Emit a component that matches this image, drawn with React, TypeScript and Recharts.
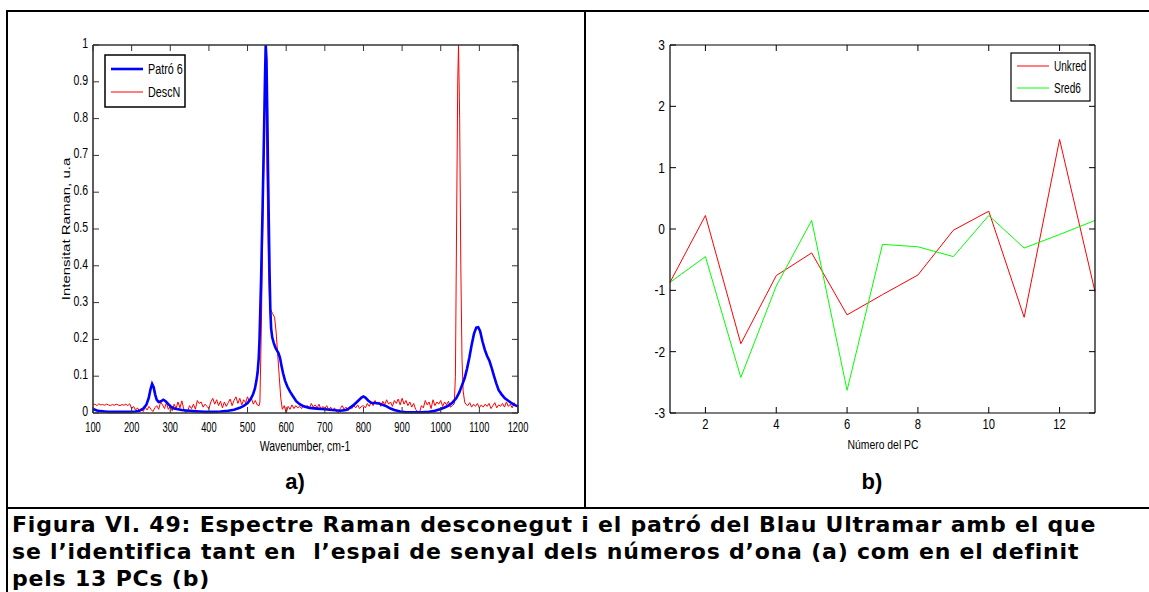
import React from 'react';
import { LineChart, Line, XAxis, YAxis } from 'recharts';

// (a) Raman spectra: wavenumber (cm-1) vs normalised intensity
const WAVENUMBER_TICKS = [100, 200, 300, 400, 500, 600, 700, 800, 900, 1000, 1100, 1200];
const INTENSITY_TICKS = [0, 0.1, 0.2, 0.3, 0.4, 0.5, 0.6, 0.7, 0.8, 0.9, 1];

const PATRO6: [number, number][] = [
  [100, 0.011], [110, 0.007], [120, 0.005], [130, 0.004], [140, 0.003], [150, 0.003], [160, 0.003],
  [170, 0.003], [180, 0.003], [190, 0.003], [200, 0.003], [210, 0.004], [220, 0.006], [230, 0.012],
  [238, 0.022], [244, 0.04], [249, 0.065], [253, 0.079], [257, 0.07], [261, 0.05], [265, 0.036],
  [270, 0.03], [276, 0.032], [282, 0.036], [288, 0.032], [295, 0.024], [302, 0.017], [310, 0.012],
  [320, 0.01], [330, 0.008], [340, 0.007], [350, 0.006], [360, 0.005], [375, 0.004], [390, 0.003],
  [410, 0.003], [430, 0.004], [450, 0.006], [465, 0.009], [480, 0.014], [490, 0.019], [500, 0.027],
  [508, 0.038], [514, 0.05], [519, 0.066], [523, 0.088], [526, 0.11], [529, 0.15], [531, 0.2],
  [533, 0.28], [535, 0.36], [537, 0.46], [539, 0.56], [541, 0.67], [543, 0.78], [545, 0.9],
  [547, 1.0], [549, 0.96], [551, 0.82], [553, 0.66], [555, 0.52], [557, 0.38], [559, 0.28],
  [561, 0.23], [564, 0.205], [568, 0.19], [572, 0.178], [576, 0.17], [580, 0.163], [584, 0.15],
  [588, 0.128], [592, 0.108], [597, 0.088], [603, 0.072], [610, 0.058], [618, 0.045], [626, 0.032],
  [635, 0.024], [645, 0.018], [660, 0.014], [680, 0.012], [700, 0.01], [720, 0.008], [740, 0.006],
  [755, 0.008], [765, 0.014], [775, 0.022], [785, 0.032], [795, 0.042], [800, 0.045], [805, 0.042],
  [812, 0.034], [820, 0.028], [830, 0.027], [840, 0.026], [850, 0.022], [860, 0.018], [870, 0.012],
  [880, 0.008], [895, 0.004], [910, 0.002], [930, 0.002], [950, 0.002], [970, 0.003], [985, 0.006],
  [998, 0.01], [1010, 0.015], [1020, 0.02], [1030, 0.028], [1040, 0.04], [1048, 0.056], [1055, 0.075],
  [1062, 0.095], [1068, 0.12], [1074, 0.15], [1080, 0.185], [1086, 0.215], [1092, 0.232], [1097, 0.233],
  [1102, 0.222], [1108, 0.195], [1114, 0.172], [1120, 0.155], [1126, 0.142], [1132, 0.122], [1138, 0.1],
  [1144, 0.08], [1150, 0.062], [1158, 0.05], [1166, 0.04], [1174, 0.034], [1182, 0.028], [1190, 0.022],
  [1200, 0.018],
];

const DESCN: [number, number][] = [
  [100, 0.022], [105, 0.024], [110, 0.02], [115, 0.025], [120, 0.022], [125, 0.023], [130, 0.021],
  [135, 0.024], [140, 0.022], [145, 0.02], [150, 0.023], [155, 0.021], [160, 0.024], [165, 0.022],
  [170, 0.02], [175, 0.023], [180, 0.021], [185, 0.024], [190, 0.02], [195, 0.025], [200, 0.012],
  [205, 0.018], [210, 0.008], [215, 0.014], [220, 0.006], [225, 0.012], [230, 0.004], [235, 0.016],
  [240, 0.008], [245, 0.018], [250, 0.01], [255, 0.004], [260, 0.014], [265, 0.02], [270, 0.01],
  [275, 0.03], [280, 0.022], [285, 0.012], [290, 0.028], [295, 0.01], [300, 0.018], [305, 0.006],
  [310, 0.024], [315, 0.012], [320, 0.03], [325, 0.014], [330, 0.033], [335, 0.01], [340, 0.0],
  [345, 0.006], [350, 0.02], [355, 0.012], [360, 0.024], [365, 0.01], [370, 0.034], [375, 0.026],
  [380, 0.03], [385, 0.016], [390, 0.024], [395, 0.018], [400, 0.012], [405, 0.03], [410, 0.04],
  [415, 0.024], [420, 0.036], [425, 0.02], [430, 0.032], [435, 0.014], [440, 0.03], [445, 0.018],
  [450, 0.028], [455, 0.038], [460, 0.02], [465, 0.034], [470, 0.044], [475, 0.026], [480, 0.04],
  [485, 0.022], [490, 0.036], [495, 0.028], [500, 0.044], [505, 0.03], [510, 0.04], [515, 0.024],
  [520, 0.034], [525, 0.022], [530, 0.02], [532, 0.03], [536, 0.25], [540, 0.55], [544, 0.8],
  [546, 0.86], [548, 0.84], [551, 0.6], [554, 0.4], [557, 0.3], [560, 0.28], [565, 0.27], [570, 0.26],
  [574, 0.22], [578, 0.16], [582, 0.1], [586, 0.04], [590, 0.01], [595, 0.02], [600, 0.0],
  [605, 0.018], [610, 0.01], [615, 0.022], [620, 0.012], [625, 0.02], [630, 0.014], [635, 0.018],
  [640, 0.012], [645, 0.022], [650, 0.016], [655, 0.02], [660, 0.012], [665, 0.026], [670, 0.016],
  [675, 0.022], [680, 0.014], [685, 0.024], [690, 0.01], [695, 0.018], [700, 0.012], [705, 0.02],
  [710, 0.008], [715, 0.016], [720, 0.006], [725, 0.014], [730, 0.004], [735, 0.0], [740, 0.012],
  [745, 0.02], [750, 0.01], [755, 0.016], [760, 0.006], [765, 0.018], [770, 0.012], [775, 0.02],
  [780, 0.014], [785, 0.022], [790, 0.012], [795, 0.018], [800, 0.02], [805, 0.014], [810, 0.026],
  [815, 0.018], [820, 0.03], [825, 0.02], [830, 0.034], [835, 0.024], [840, 0.03], [845, 0.018],
  [850, 0.032], [855, 0.022], [860, 0.036], [865, 0.024], [870, 0.03], [875, 0.018], [880, 0.034],
  [885, 0.026], [890, 0.038], [895, 0.022], [900, 0.04], [905, 0.024], [910, 0.034], [915, 0.02],
  [920, 0.03], [925, 0.016], [930, 0.026], [935, 0.01], [940, 0.004], [945, 0.0], [950, 0.02],
  [955, 0.014], [960, 0.034], [965, 0.022], [970, 0.03], [975, 0.012], [980, 0.036], [985, 0.02],
  [990, 0.03], [995, 0.024], [1000, 0.034], [1005, 0.018], [1010, 0.03], [1015, 0.022], [1020, 0.032],
  [1025, 0.016], [1030, 0.02], [1035, 0.025], [1038, 0.1], [1041, 0.5], [1044, 0.9], [1046, 1.0],
  [1049, 0.8], [1052, 0.4], [1055, 0.15], [1058, 0.06], [1062, 0.03], [1065, 0.024], [1070, 0.02],
  [1075, 0.028], [1080, 0.016], [1085, 0.024], [1090, 0.018], [1095, 0.026], [1100, 0.014],
  [1105, 0.022], [1110, 0.016], [1115, 0.024], [1120, 0.018], [1125, 0.026], [1130, 0.012],
  [1135, 0.02], [1140, 0.028], [1145, 0.014], [1150, 0.022], [1155, 0.018], [1160, 0.026],
  [1165, 0.016], [1170, 0.03], [1175, 0.018], [1180, 0.024], [1185, 0.014], [1190, 0.028],
  [1195, 0.02], [1200, 0.022],
];

// (b) scores on the 13 principal components
const PC_NUMBERS = [1, 2, 3, 4, 5, 6, 7, 8, 9, 10, 11, 12, 13];
const UNKRED = [-0.87, 0.22, -1.87, -0.76, -0.39, -1.4, -1.07, -0.75, -0.02, 0.29, -1.44, 1.46, -1.02];
const SRED6 = [-0.87, -0.45, -2.42, -0.93, 0.14, -2.63, -0.25, -0.29, -0.45, 0.22, -0.31, -0.09, 0.14];
const PC_TICKS = [2, 4, 6, 8, 10, 12];
const SCORE_TICKS = [-3, -2, -1, 0, 1, 2, 3];

const spectrumA = PATRO6.map(([w, v]) => ({ w, v }));
const spectrumB = DESCN.map(([w, v]) => ({ w, v }));
const scores = PC_NUMBERS.map((pc, i) => ({ pc, unkred: UNKRED[i], sred6: SRED6[i] }));

const FONT = '"Liberation Sans", Arial, sans-serif';
const TICK_LEN = 6;

// squeezed text, the figure was exported narrower than it was drawn
const Squeezed = ({ x, y, sx, size, anchor, children }: any) => (
  <g transform={`translate(${x},${y}) scale(${sx},1)`}>
    <text x={0} y={0} textAnchor={anchor} fontSize={size} fontFamily={FONT} fill="#000">
      {children}
    </text>
  </g>
);

// inward tick marks with labels outside the box
const makeTick = (side: string, opts: any = {}) => (props: any) => {
  const { x, y, payload } = props;
  const v = payload.value;
  if (side === 'bottom') {
    return (
      <g>
        <line x1={x} y1={y} x2={x} y2={y - TICK_LEN} stroke={opts.color} />
        <Squeezed x={x} y={y + opts.dy} sx={opts.sx} size={opts.size} anchor="middle">{v}</Squeezed>
      </g>
    );
  }
  if (side === 'left') {
    return (
      <g>
        <line x1={x} y1={y} x2={x + TICK_LEN} y2={y} stroke={opts.color} />
        <Squeezed x={x - 5} y={y + opts.dy} sx={opts.sx} size={opts.size} anchor="end">{v}</Squeezed>
      </g>
    );
  }
  if (side === 'top') {
    return <line x1={x} y1={y} x2={x} y2={y + TICK_LEN} stroke={opts.color} />;
  }
  return <line x1={x} y1={y} x2={x - TICK_LEN} y2={y} stroke={opts.color} />;
};

// axes get 1px of room so that Recharts draws them; margins make up the rest
const SpectraChart = () => {
  const axisLine = { stroke: '#333', strokeWidth: 1.6 };
  return (
    <LineChart width={585} height={508} margin={{ top: 44, right: 66, bottom: 94, left: 92 }}>
      <XAxis xAxisId="b" dataKey="w" type="number" domain={[100, 1200]} ticks={WAVENUMBER_TICKS}
        height={1} tickSize={0} tickMargin={0} tickLine={false} axisLine={axisLine}
        tick={makeTick('bottom', { color: '#333', dy: 19, sx: 0.62, size: 15 })} interval={0} />
      <XAxis xAxisId="t" orientation="top" dataKey="w" type="number" domain={[100, 1200]} ticks={WAVENUMBER_TICKS}
        height={1} tickSize={0} tickMargin={0} tickLine={false} axisLine={axisLine}
        tick={makeTick('top', { color: '#333' })} interval={0} />
      <YAxis yAxisId="l" type="number" domain={[0, 1]} ticks={INTENSITY_TICKS} width={1}
        tickSize={0} tickMargin={0} tickLine={false} axisLine={axisLine}
        tick={makeTick('left', { color: '#333', dy: 3, sx: 0.75, size: 14 })} interval={0} />
      <YAxis yAxisId="r" orientation="right" type="number" domain={[0, 1]} ticks={INTENSITY_TICKS} width={1}
        tickSize={0} tickMargin={0} tickLine={false} axisLine={axisLine}
        tick={makeTick('right', { color: '#333' })} interval={0} />
      <Line xAxisId="b" yAxisId="l" data={spectrumB} dataKey="v" stroke="#ff0000" strokeWidth={1}
        dot={false} isAnimationActive={false} />
      <Line xAxisId="t" yAxisId="r" data={spectrumA} dataKey="v" stroke="#0000ff" strokeWidth={2.6}
        dot={false} isAnimationActive={false} />
    </LineChart>
  );
};

const ScoresChart = () => {
  const axisLine = { stroke: '#000', strokeWidth: 1.2 };
  return (
    <LineChart width={564} height={508} data={scores} margin={{ top: 44, right: 53, bottom: 94, left: 84 }}>
      <XAxis xAxisId="b" dataKey="pc" type="number" domain={[1, 13]} ticks={PC_TICKS}
        height={1} tickSize={0} tickMargin={0} tickLine={false} axisLine={axisLine}
        tick={makeTick('bottom', { color: '#000', dy: 16, sx: 0.8, size: 14 })} interval={0} />
      <XAxis xAxisId="t" orientation="top" dataKey="pc" type="number" domain={[1, 13]} ticks={PC_TICKS}
        height={1} tickSize={0} tickMargin={0} tickLine={false} axisLine={axisLine}
        tick={makeTick('top', { color: '#000' })} interval={0} />
      <YAxis yAxisId="l" type="number" domain={[-3, 3]} ticks={SCORE_TICKS} width={1}
        tickSize={0} tickMargin={0} tickLine={false} axisLine={axisLine}
        tick={makeTick('left', { color: '#000', dy: 5, sx: 0.85, size: 14 })} interval={0} />
      <YAxis yAxisId="r" orientation="right" type="number" domain={[-3, 3]} ticks={SCORE_TICKS} width={1}
        tickSize={0} tickMargin={0} tickLine={false} axisLine={axisLine}
        tick={makeTick('right', { color: '#000' })} interval={0} />
      <Line xAxisId="b" yAxisId="l" dataKey="unkred" stroke="#ff0000" strokeWidth={1}
        dot={false} isAnimationActive={false} />
      <Line xAxisId="t" yAxisId="r" dataKey="sred6" stroke="#00ff00" strokeWidth={1}
        dot={false} isAnimationActive={false} />
    </LineChart>
  );
};

// frame, axis titles, legends
const Overlay = () => (
  <svg width={1149} height={592} style={{ position: 'absolute', left: 0, top: 0, pointerEvents: 'none' }}>
    <g stroke="#000" strokeWidth={2}>
      <line x1={7} y1={11} x2={1149} y2={11} />
      <line x1={7} y1={10} x2={7} y2={592} />
      <line x1={585} y1={11} x2={585} y2={508} />
      <line x1={7} y1={508} x2={1149} y2={508} />
    </g>

    <Squeezed x={305} y={451} sx={0.75} size={14} anchor="middle">Wavenumber, cm-1</Squeezed>
    <g transform="translate(70,229) rotate(-90) scale(1,0.75)">
      <text x={0} y={0} textAnchor="middle" fontSize={15} fontFamily={FONT} fill="#000">Intensitat  Raman, u.a</text>
    </g>
    <Squeezed x={883} y={449} sx={0.8} size={13} anchor="middle">Número del PC</Squeezed>

    <text x={295} y={489} textAnchor="middle" fontSize={22} fontWeight="bold" fontFamily={FONT}>a)</text>
    <text x={872} y={489} textAnchor="middle" fontSize={22} fontWeight="bold" fontFamily={FONT}>b)</text>

    <rect x={105} y={55} width={80} height={52} fill="#fff" stroke="#000" strokeWidth={1.5} />
    <line x1={111} y1={69} x2={143} y2={69} stroke="#0000ff" strokeWidth={2.6} />
    <Squeezed x={148} y={74} sx={0.72} size={15} anchor="start">Patró 6</Squeezed>
    <line x1={111} y1={92} x2={143} y2={92} stroke="#ff0000" strokeWidth={1} />
    <Squeezed x={148} y={97} sx={0.72} size={15} anchor="start">DescN</Squeezed>

    <rect x={1011} y={53} width={79} height={48} fill="#fff" stroke="#000" strokeWidth={1.2} />
    <line x1={1017} y1={66} x2={1049} y2={66} stroke="#ff0000" strokeWidth={1} />
    <Squeezed x={1054} y={71} sx={0.72} size={14} anchor="start">Unkred</Squeezed>
    <line x1={1017} y1={88} x2={1049} y2={88} stroke="#00ff00" strokeWidth={1} />
    <Squeezed x={1054} y={93} sx={0.72} size={14} anchor="start">Sred6</Squeezed>
  </svg>
);

const CAPTION = [
  'Figura VI. 49: Espectre Raman desconegut i el patró del Blau Ultramar amb el que',
  'se l’identifica tant en  l’espai de senyal dels números d’ona (a) com en el definit',
  'pels 13 PCs (b)',
];

export default function App() {
  return (
    <div style={{ position: 'absolute', left: 0, top: 0, width: 1149, height: 592, overflow: 'hidden', background: '#fff' }}>
      <div style={{ position: 'absolute', left: 0, top: 0 }}>
        <SpectraChart />
      </div>
      <div style={{ position: 'absolute', left: 585, top: 0 }}>
        <ScoresChart />
      </div>
      <Overlay />
      <div style={{
        position: 'absolute', left: 12, top: 511, fontFamily: '"DejaVu Sans", Verdana, sans-serif',
        fontWeight: 'bold', fontSize: 22, letterSpacing: 0.8, lineHeight: '27px', whiteSpace: 'pre', color: '#000',
      }}>
        {CAPTION.map((line) => <div key={line}>{line}</div>)}
      </div>
    </div>
  );
}
